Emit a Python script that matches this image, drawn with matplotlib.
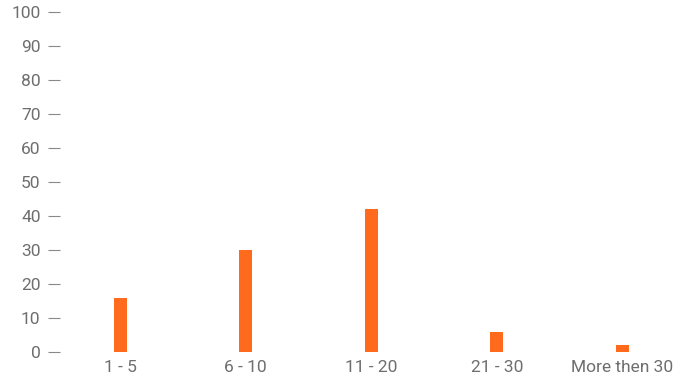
import matplotlib
matplotlib.use("Agg")
import matplotlib.pyplot as plt

categories = ["1 - 5", "6 - 10", "11 - 20", "21 - 30", "More then 30"]
values = [16, 30, 42, 6, 2]
yticks = [0, 10, 20, 30, 40, 50, 60, 70, 80, 90, 100]

plt.rcParams['font.family'] = ['Roboto', 'DejaVu Sans']

fig = plt.figure(figsize=(6.91, 3.78), dpi=100)
ax = fig.add_axes([60/691, (378-354)/378, 625/691, 342/378])

x = range(len(categories))
ax.bar(x, values, width=0.104, color="#FF6A1C")

ax.set_xlim(-0.48, 4.5)
ax.set_ylim(-0.6, 100)
ax.set_yticks(yticks)
ax.set_xticks(list(x))
ax.set_xticklabels(categories)

for s in ax.spines.values():
    s.set_visible(False)

ax.tick_params(axis="y", direction="out", length=9, width=0.8, color="#888888",
               labelcolor="#6e6e6e", labelsize=12.5, pad=5)
ax.tick_params(axis="x", length=0, labelcolor="#6e6e6e", labelsize=12.5, pad=4)

fig.savefig("out.png", dpi=100)
